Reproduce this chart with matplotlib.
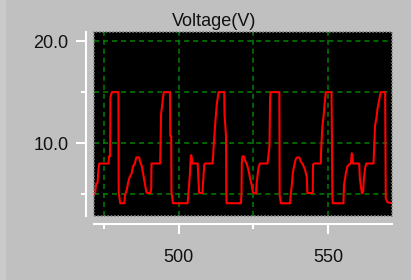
import matplotlib
matplotlib.use("Agg")
import matplotlib.pyplot as plt
from matplotlib.patches import Rectangle

plt.rcParams["font.family"] = ["Liberation Sans", "DejaVu Sans"]

t = [471.5, 471.9, 472.2, 472.7, 473.0, 473.3, 476.4, 476.5, 476.9, 477.0, 477.5, 479.7,
     479.8, 480.3, 481.7, 481.9, 482.5, 483.0, 483.5, 484.1, 484.6, 485.2, 485.7, 486.7,
     486.9, 487.5, 488.0, 488.6, 489.0, 489.3, 490.4, 490.7, 490.8, 493.7, 493.8, 494.0,
     494.4, 494.9, 497.0, 497.1, 497.4, 497.5, 498.0, 502.9, 503.2, 503.7, 504.0, 504.2,
     504.5, 506.3, 506.5, 506.8, 507.9, 508.2, 508.5, 508.8, 511.3, 511.6, 512.2, 512.7,
     513.3, 515.2, 515.3, 515.8, 515.9, 516.0, 520.8, 521.0, 521.1, 521.3, 521.8, 522.2,
     522.7, 523.3, 523.9, 524.4, 524.8, 525.2, 525.9, 526.1, 526.7, 527.2, 529.7, 530.0,
     530.4, 530.6, 530.8, 533.7, 533.8, 534.2, 537.3, 537.5, 537.9, 538.2, 538.6, 539.0,
     539.3, 539.8, 540.4, 540.9, 541.6, 542.3, 542.9, 543.1, 544.9, 545.0, 545.4, 547.6,
     547.7, 548.1, 548.5, 548.9, 549.3, 551.2, 551.3, 551.5, 551.6, 555.2, 555.4, 556.0,
     556.5, 557.1, 557.7, 558.0, 558.2, 558.4, 560.5, 560.7, 561.0, 561.4, 561.8, 562.1,
     562.5, 562.9, 565.3, 565.5, 565.8, 566.3, 566.6, 567.2, 567.7, 569.2, 569.4, 570.0,
     571.5]
volts = [5.0, 5.1, 6.0, 6.1, 7.5, 8.0, 8.0, 8.7, 8.7, 14.5, 15.0, 15.0,
         5.1, 4.1, 4.1, 4.9, 5.4, 6.2, 6.7, 7.0, 7.7, 8.0, 8.6, 8.6,
         8.2, 7.8, 7.0, 6.0, 5.3, 5.1, 5.1, 5.5, 8.0, 8.0, 9.4, 12.8,
         13.8, 15.0, 15.0, 10.7, 10.7, 5.2, 4.1, 4.1, 5.1, 7.0, 8.8, 8.8,
         8.0, 8.0, 6.6, 5.1, 5.1, 6.6, 7.9, 8.0, 8.0, 9.4, 12.0, 13.8,
         15.0, 15.0, 12.8, 10.7, 5.0, 4.1, 4.1, 5.1, 8.0, 8.7, 8.7, 8.3,
         8.0, 7.4, 6.5, 5.9, 5.2, 5.07, 5.07, 6.1, 7.6, 8.0, 8.0, 8.7,
         9.8, 14.5, 15.0, 15.0, 4.9, 4.1, 4.1, 4.9, 5.9, 7.0, 7.7, 8.2,
         8.5, 8.6, 8.6, 8.2, 7.9, 7.4, 6.7, 5.1, 5.1, 7.9, 8.0, 8.0,
         9.2, 11.5, 12.5, 13.9, 15.0, 15.0, 11.2, 4.9, 4.1, 4.1, 5.9, 7.0,
         7.7, 7.9, 8.0, 9.0, 8.7, 8.0, 8.0, 6.6, 5.9, 5.07, 5.2, 6.6,
         7.6, 8.0, 8.0, 9.4, 11.7, 12.5, 13.3, 14.2, 15.0, 15.0, 4.6, 4.2,
         4.1]

x_major = [500, 550]
x_minor = [475, 525]
y_major = [10, 20]
y_minor = [5, 15]

BG = "#c0c0c0"

fig = plt.figure(figsize=(4.11, 2.80), dpi=100)
fig.patch.set_facecolor(BG)
fig.patches.append(Rectangle((0, 0), 6 / 411, 1, transform=fig.transFigure,
                             facecolor="#cacaca", edgecolor="none", zorder=0))

ax = fig.add_axes([94 / 411, 64 / 280, 298 / 411, 184 / 280])
ax.set_facecolor("black")

ax.plot(t, volts, color="#ff0000", linewidth=1.5, zorder=3)

ax.set_xlim(471.5, 571.5)
ax.set_ylim(2.85, 20.9)

ax.set_xticks(x_major)
ax.set_xticks(x_minor, minor=True)
ax.set_yticks(y_major)
ax.set_yticks(y_minor, minor=True)
ax.set_xticklabels([str(v) for v in x_major])
ax.set_yticklabels([f"{v:.1f}" for v in y_major])

grid_style = dict(color="#008000", linestyle=(0, (3.3, 2.6)), linewidth=1.1, zorder=2)
for v in x_major + x_minor:
    ax.axvline(v, **grid_style)
for v in y_major + y_minor:
    ax.axhline(v, **grid_style)

for side in ("top", "right"):
    ax.spines[side].set_visible(False)
for side in ("left", "bottom"):
    ax.spines[side].set_position(("outward", 5.5))
    ax.spines[side].set_color("white")
    ax.spines[side].set_linewidth(1.5)

ax.tick_params(which="major", length=7, width=1.5, color="white",
               labelsize=13, labelcolor="#111111", pad=6)
ax.tick_params(which="minor", length=3.5, width=1.5, color="white")
ax.tick_params(axis="x", which="major", pad=11)

# dotted frame round the plot area
ax.add_patch(Rectangle((0, 0), 1, 1, transform=ax.transAxes, fill=False,
                       edgecolor="#808080", linestyle=(0, (1, 1)), linewidth=1.2,
                       clip_on=False, zorder=4))

fig.text(214.5 / 411, 1 - 21 / 280, "Voltage(V)", ha="center", va="center",
         fontsize=13, color="#111111")

fig.savefig("out.png", dpi=100, facecolor=BG)
